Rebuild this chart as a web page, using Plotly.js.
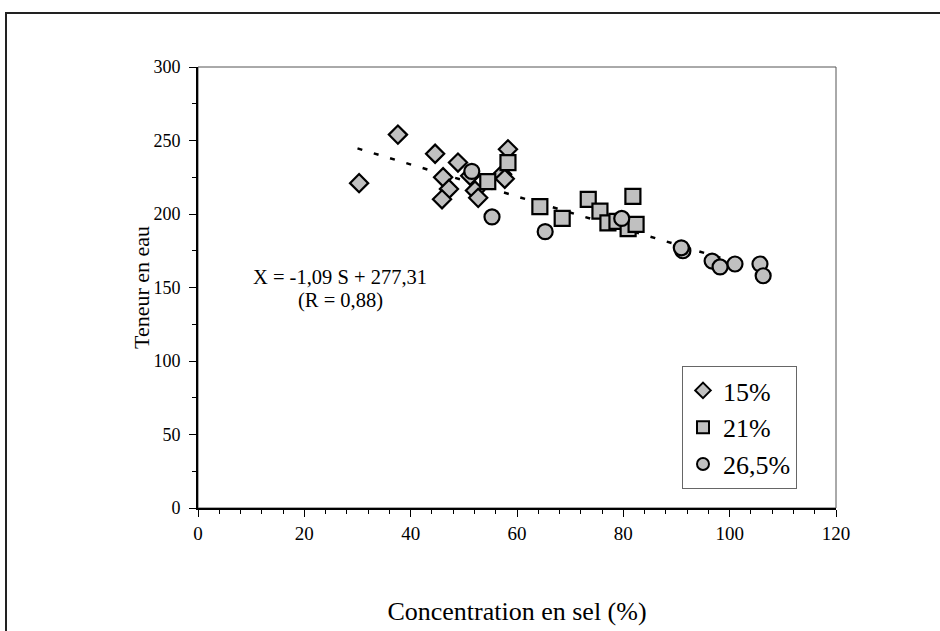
<!DOCTYPE html>
<html>
<head>
<meta charset="utf-8">
<script src="https://cdn.plot.ly/plotly-3.0.1.min.js"></script>
<style>
  html, body { margin: 0; padding: 0; background: #ffffff; overflow: hidden; }
  #frame { position: absolute; left: 5px; top: 12px; width: 960px; height: 660px;
           border-left: 2px solid #222; border-top: 2px solid #222; }
  #chart { position: absolute; left: 0; top: 0; width: 940px; height: 631px; }
</style>
</head>
<body>
<div id="frame"></div>
<div id="chart"></div>
<script>
// Salt concentration (%) vs water content, three brine strengths
const salt15 = [30.3, 37.6, 44.6, 48.9, 46.1, 47.2, 45.9, 51.2, 52.1, 52.7, 58.3, 57.2, 57.7];
const water15 = [221, 254, 241, 235, 225, 217, 210, 226, 216, 211, 244, 227, 224];

const salt21 = [54.5, 58.3, 64.3, 68.5, 73.4, 75.6, 77.1, 78.8, 81.8, 80.9, 82.4];
const water21 = [222, 235, 205, 197, 210, 202, 194, 195, 212, 190, 193];

const salt265 = [51.5, 55.3, 65.3, 79.7, 91.2, 90.9, 96.7, 98.2, 101.0, 105.7, 106.3];
const water265 = [229, 198, 188, 197, 175, 177, 168, 164, 166, 166, 158];

// Linear fit X = a*S + b
const fitSlope = -1.09;
const fitIntercept = 277.31;
const fitRange = [30, 100];

const seriesNames = ['15%', '21%', '26,5%'];
const xTicks = [0, 20, 40, 60, 80, 100, 120];
const yTicks = [0, 50, 100, 150, 200, 250, 300];

const serif = '"Liberation Serif", serif';
const fillGrey = '#c0c0c0';
const outline = { color: '#000', width: 2.2 };

const traces = [
  { x: fitRange, y: fitRange.map(s => fitSlope * s + fitIntercept),
    mode: 'lines', line: { color: '#000', width: 2.5, dash: '5px,12px' },
    showlegend: false, hoverinfo: 'skip' },
  { x: salt15, y: water15, name: seriesNames[0], mode: 'markers', legendgroup: 'a',
    marker: { symbol: 'diamond', size: 14, color: fillGrey, line: outline } },
  { x: salt21, y: water21, name: seriesNames[1], mode: 'markers', legendgroup: 'b',
    marker: { symbol: 'square', size: 15, color: fillGrey, line: outline } },
  { x: salt265, y: water265, name: seriesNames[2], mode: 'markers', legendgroup: 'c',
    marker: { symbol: 'circle', size: 15, color: fillGrey, line: outline } }
];

const layout = {
  width: 940, height: 631,
  margin: { l: 198, r: 104, t: 67, b: 123 },
  paper_bgcolor: 'rgba(0,0,0,0)',
  plot_bgcolor: '#ffffff',
  font: { family: serif, size: 18, color: '#000' },
  xaxis: {
    range: [0, 120], tickvals: xTicks, ticktext: xTicks.map(String),
    showgrid: false, zeroline: false, showline: true, linecolor: '#000', linewidth: 2,
    ticks: 'outside', ticklen: 7, tickwidth: 1, tickcolor: '#000',
    minor: { dtick: 4, ticks: 'outside', ticklen: 4, tickcolor: '#000', tickwidth: 1, showgrid: false },
    title: { text: 'Concentration en sel (%)', font: { family: serif, size: 26 }, standoff: 59 },
    tickfont: { family: serif, size: 19 }
  },
  yaxis: {
    range: [0, 300], tickvals: yTicks, ticktext: yTicks.map(String),
    showgrid: false, zeroline: false, showline: true, linecolor: '#000', linewidth: 2,
    ticks: 'outside', ticklen: 7, tickwidth: 1, tickcolor: '#000', ticklabelstandoff: 5,
    minor: { dtick: 25, ticks: 'outside', ticklen: 4, tickcolor: '#000', tickwidth: 1, showgrid: false },
    tickfont: { family: serif, size: 18 }
  },
  shapes: [
    { type: 'rect', xref: 'paper', yref: 'paper', x0: 0, x1: 1, y0: 0, y1: 1,
      line: { color: '#555', width: 1 }, layer: 'below' }
  ],
  annotations: [
    // vertical axis label, set close to the tick numbers
    { xref: 'paper', yref: 'paper', x: (141 - 198) / 638, y: (508 - 288) / 441,
      xanchor: 'center', yanchor: 'middle', textangle: -90,
      text: 'Teneur en eau', showarrow: false, font: { family: serif, size: 22 } },
    { xref: 'paper', yref: 'paper', x: (340 - 198) / 638, y: (508 - 277) / 441,
      xanchor: 'center', yanchor: 'middle',
      text: 'X = -1,09 S + 277,31', showarrow: false, font: { family: serif, size: 20.5 } },
    { xref: 'paper', yref: 'paper', x: (340 - 198) / 638, y: (508 - 300) / 441,
      xanchor: 'center', yanchor: 'middle',
      text: '(R = 0,88)', showarrow: false, font: { family: serif, size: 20.5 } }
  ],
  legend: {
    x: (682 - 198) / 638, y: (508 - 366) / 441, xanchor: 'left', yanchor: 'top',
    bgcolor: '#ffffff', bordercolor: '#666', borderwidth: 1,
    font: { family: serif, size: 26 }, tracegroupgap: 0, itemwidth: 30,
    itemsizing: 'constant'
  },
  showlegend: true
};

Plotly.newPlot('chart', traces, layout, { displayModeBar: false, staticPlot: true });
</script>
</body>
</html>
